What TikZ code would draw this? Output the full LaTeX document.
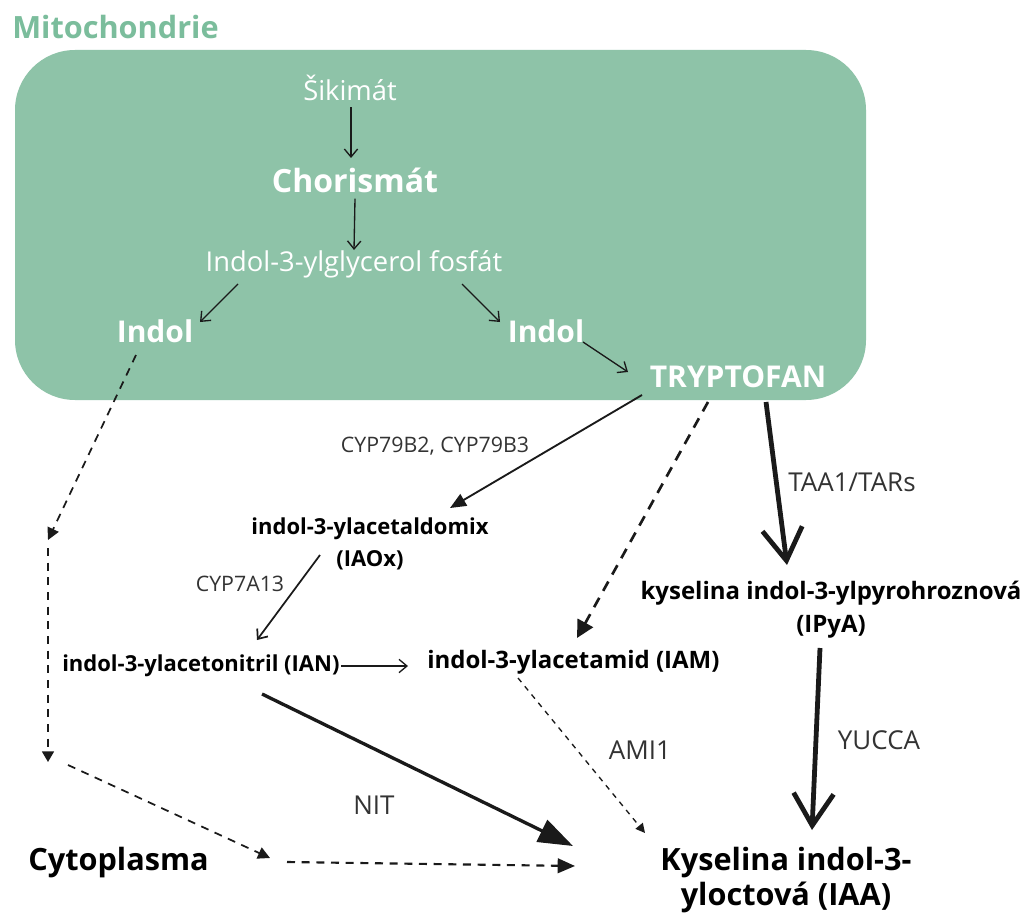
\documentclass[tikz,border=0pt]{standalone}
\usepackage{fontspec}
\setmainfont{Open Sans}
\usetikzlibrary{arrows.meta}
\definecolor{boxgreen}{HTML}{8EC3A8}
\definecolor{titlegreen}{HTML}{7BBD9C}
\definecolor{ink}{HTML}{1A1A1A}
\definecolor{lbl}{HTML}{333333}
\tikzset{
  big/.style={font=\fontsize{23}{26}\selectfont\bfseries, inner sep=0pt},
  inwhite/.style={text=white, font=\fontsize{20.5}{24}\selectfont, inner sep=0pt},
  inbold/.style={text=white, font=\fontsize{22.5}{26}\selectfont\bfseries, inner sep=0pt},
  mid/.style={font=\fontsize{16.5}{24}\selectfont\bfseries, inner sep=0pt, align=center},
  midl/.style={font=\fontsize{18}{25}\selectfont\bfseries, inner sep=0pt, align=center},
  lab/.style={text=lbl, font=\fontsize{16}{18}\selectfont, inner sep=0pt},
  labl/.style={text=lbl, font=\fontsize{19.5}{22}\selectfont, inner sep=0pt},
  thin/.style={draw=ink, line width=1pt, -{Straight Barb[length=6pt,width=10pt]}},
  solidarr/.style={draw=ink, line width=1.6pt, -{Triangle[length=12pt,width=10pt]}},
  dasharr/.style={draw=ink, line width=1.3pt, dash pattern=on 6pt off 5pt, -{Triangle[length=9pt,width=9pt]}},
  thinfdash/.style={draw=ink, line width=1pt, dash pattern=on 4pt off 4pt, -{Triangle[length=7pt,width=7pt]}},
  heavy/.style={draw=ink, line width=3.6pt, -{Straight Barb[length=24pt,width=30pt,line width=3.6pt]}},
}
\begin{document}
\begin{tikzpicture}[x=0.75pt,y=-0.75pt]
\useasboundingbox (0,0) rectangle (1028,913);
\fill[white] (0,0) rectangle (1028,913);
% mitochondrion box
\fill[boxgreen, rounded corners=45pt] (15,50) rectangle (866,400);
\node[text=titlegreen, font=\fontsize{23}{26}\selectfont\bfseries, inner sep=0pt, anchor=west] (mito) at (12,27) {Mitochondrie};
% inside nodes
\node[inwhite] (sik) at (350,88) {Šikimát};
\node[inbold, font=\fontsize{24}{28}\selectfont\bfseries] (chor) at (355,180) {Chorismát};
\node[inwhite] (igp) at (354,264) {Indol-3-ylglycerol fosfát};
\node[inbold] (indL) at (155,331) {Indol};
\node[inbold] (indR) at (546,331) {Indol};
\node[inbold] (tryp) at (738,377) {TRYPTOFAN};
% outside nodes
\node[mid] (iaox) at (370,544) {indol-3-ylacetaldomix\\(IAOx)};
\node[mid, anchor=west] (ian) at (62,666) {indol-3-ylacetonitril (IAN)};
\node[midl, anchor=west] (iam) at (427,662) {indol-3-ylacetamid (IAM)};
\node[midl] (ipya) at (831,610) {kyselina indol-3-ylpyrohroznová\\(IPyA)};
\node[big, align=center] (iaa) at (786,880) {Kyselina indol-3-\\yloctová (IAA)};
\node[big, anchor=west] (cyto) at (28,863) {Cytoplasma};
% labels
\node[lab] (l1) at (435,446) {CYP79B2, CYP79B3};
\node[lab] (l2) at (240,584) {CYP7A13};
\node[labl] (l3) at (852,482) {TAA1/TARs};
\node[labl] (l4) at (879,740) {YUCCA};
\node[labl] (l5) at (640,750) {AMI1};
\node[labl] (l6) at (374,805) {NIT};
% helper coordinates
\coordinate (c1) at (48,540);
\coordinate (c2) at (48,548);
\coordinate (c3) at (48,762);
\coordinate (c4) at (68,765);
\coordinate (c5) at (270,858);
\coordinate (c6) at (287,862);
\coordinate (c7) at (575,866);
% arrows inside
\draw[thin] (sik.south) ++(1,6) -- (351,158);
\draw[thin] (chor.south) ++(0,6) -- (354,250);
\draw[thin] (238,284) -- (200,322);
\draw[thin] (462,284) -- (500,322);
\draw[thin] (583,342) -- (628,372);
% outside arrows
\draw[solidarr, line width=1.4pt] (642,395) -- (450,508);
\draw[thin, line width=1.3pt] (320,555) -- (257,640);
\draw[thin] (341,666) -- (408,666);
\draw[dasharr, line width=2pt, dash pattern=on 8pt off 6pt, -{Triangle[length=13pt,width=13pt]}] (708,402) -- (577,638);
\draw[heavy] (766,402) -- (787,565);
\draw[heavy] (820,648) -- (812,830);
\draw[thinfdash] (518,678) -- (645,833);
\draw[solidarr, line width=2.5pt, -{Triangle[length=26pt,width=18pt]}] (262,694) -- (573,846);
\draw[dasharr] (136,355) -- (c1);
\draw[draw=ink, line width=1.3pt, dash pattern=on 6pt off 5pt, -{Triangle[length=8pt,width=9pt]}] (c2) -- (c3);
\draw[dasharr] (c4) -- (c5);
\draw[dasharr, line width=1.6pt, -{Triangle[length=13pt,width=11pt]}] (c6) -- (c7);
\end{tikzpicture}
\end{document}
